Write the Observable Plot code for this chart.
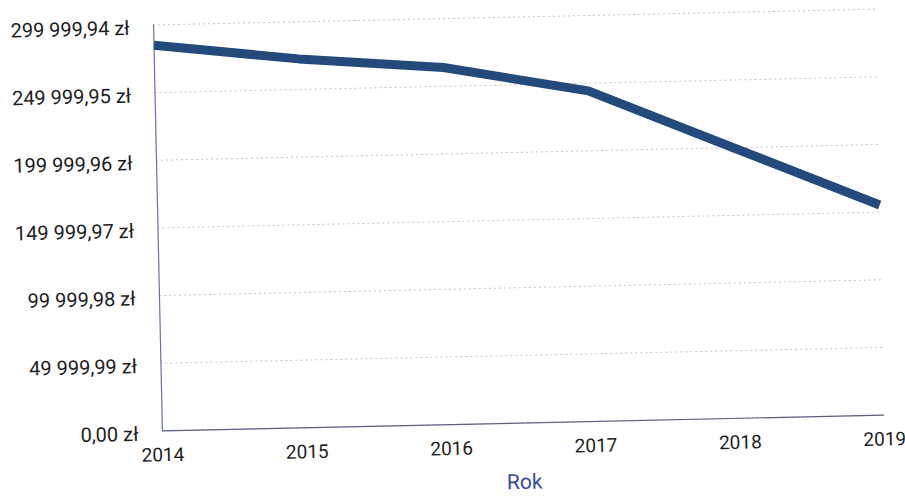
<!DOCTYPE html>
<html>
<head>
<meta charset="utf-8">
<script src="https://cdn.jsdelivr.net/npm/d3@7"></script>
<script src="https://cdn.jsdelivr.net/npm/@observablehq/plot@0.6"></script>
<style>
  html, body { margin: 0; padding: 0; background: #fff; }
  #chart { width: 905px; height: 497px; overflow: hidden; }
  #chart svg { transform: rotate(-1.25deg); transform-origin: 50% 50%; display: block; }
</style>
</head>
<body>
<div id="chart"></div>
<script>
const years = [2014, 2015, 2016, 2017, 2018, 2019];
const values = [285000, 272600, 263900, 244300, 199800, 155300];
const yTickValues = [0, 49999.99, 99999.98, 149999.97, 199999.96, 249999.95, 299999.94];
const yTickLabels = ["0,00 zł", "49 999,99 zł", "99 999,98 zł", "149 999,97 zł", "199 999,96 zł", "249 999,95 zł", "299 999,94 zł"];
const xLabel = "Rok";

const data = years.map((year, i) => ({year, value: values[i]}));

const chart = Plot.plot({
  width: 905,
  height: 497,
  marginLeft: 158,
  marginRight: 25,
  marginTop: 18,
  marginBottom: 73,
  style: {fontFamily: "Roboto, sans-serif", background: "#fff", color: "#222"},
  x: {type: "linear", domain: [2014, 2019]},
  y: {domain: [0, 299999.94]},
  marks: [
    Plot.gridY(yTickValues, {stroke: "#8a8a8a", strokeOpacity: 0.5, strokeDasharray: "2,3"}),
    Plot.ruleY([0], {stroke: "#5b5f80", strokeWidth: 1.2}),
    Plot.ruleX([2014], {stroke: "#6a70b0", strokeWidth: 1.2}),
    Plot.axisY(yTickValues, {
      tickSize: 0, tickPadding: 24, fontSize: 20, dy: 3, fill: "#1e1e1e",
      tickFormat: (d) => yTickLabels[yTickValues.indexOf(d)], label: null
    }),
    Plot.axisX(years, {
      tickSize: 0, tickPadding: 17, fontSize: 19, fill: "#1e1e1e",
      tickFormat: (d) => String(d), label: null
    }),
    Plot.text([xLabel], {frameAnchor: "bottom", dy: 66, fontSize: 21, fill: "#3b4a9c"}),
    Plot.line(data, {x: "year", y: "value", stroke: "#244a7c", strokeWidth: 9, strokeLinecap: "butt", strokeLinejoin: "round"})
  ]
});
document.getElementById("chart").appendChild(chart);
</script>
</body>
</html>
